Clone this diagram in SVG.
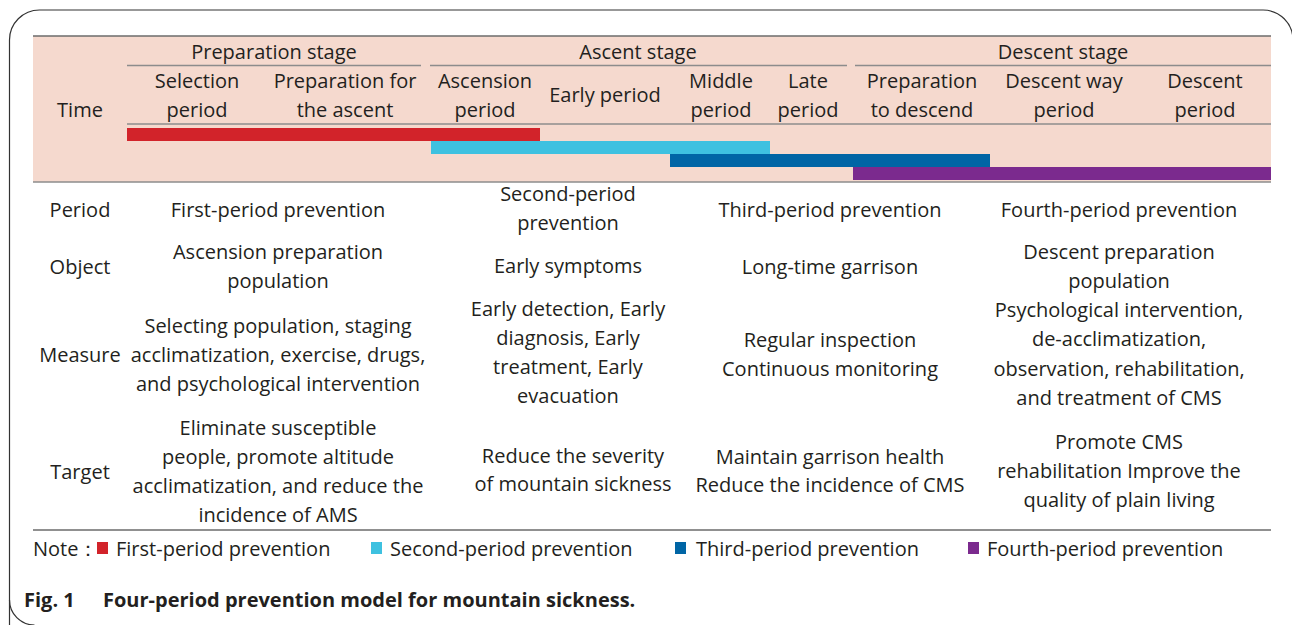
<svg xmlns="http://www.w3.org/2000/svg" width="1292" height="625" viewBox="0 0 1292 625">
<style>
text{font-family:"Open Sans","Noto Sans","Liberation Sans",sans-serif;font-size:20px;fill:#231f20;text-anchor:middle}
.l{text-anchor:start}
.cap{font-weight:bold;font-size:20px;text-anchor:start}
.rule{stroke:#8c8c8c;stroke-width:1.5;fill:none}
.dark{stroke:#6b6b6b;stroke-width:1.5;fill:none}
</style>
<rect width="1292" height="625" fill="#fff"/>
<path d="M9.5,630 V40 A30,30 0 0 1 39.5,10 H1263 A30,30 0 0 1 1293,40 V640" fill="none" stroke="#333" stroke-width="1.2"/>
<path d="M9.5,600 A25,25 0 0 0 34.5,625" fill="none" stroke="#333" stroke-width="1.2"/>
<g id="header">
<rect x="33" y="36" width="1238" height="146" fill="#f5d9ce"/>
<line class="dark" x1="33" y1="36" x2="1271" y2="36"/>
<line class="rule" x1="33" y1="182" x2="1271" y2="182"/>
<line class="rule" x1="127" y1="65.5" x2="421" y2="65.5"/>
<line class="rule" x1="430" y1="65.5" x2="847" y2="65.5"/>
<line class="rule" x1="855" y1="65.5" x2="1271" y2="65.5"/>
<line class="rule" x1="127" y1="124" x2="1271" y2="124"/>
<text x="274" y="59">Preparation stage</text>
<text x="638" y="59">Ascent stage</text>
<text x="1063" y="59">Descent stage</text>
<text x="80" y="117">Time</text>
<text x="197" y="88">Selection</text><text x="197" y="117">period</text>
<text x="345" y="88">Preparation for</text><text x="345" y="117">the ascent</text>
<text x="485" y="88">Ascension</text><text x="485" y="117">period</text>
<text x="605" y="102">Early period</text>
<text x="721" y="88">Middle</text><text x="721" y="117">period</text>
<text x="808" y="88">Late</text><text x="808" y="117">period</text>
<text x="922" y="88">Preparation</text><text x="922" y="117">to descend</text>
<text x="1064" y="88">Descent way</text><text x="1064" y="117">period</text>
<text x="1205" y="88">Descent</text><text x="1205" y="117">period</text>
</g>
<g id="bars">
<rect x="127" y="128" width="413" height="13" fill="#d2232a"/>
<rect x="431" y="141" width="339" height="13" fill="#3ec1e0"/>
<rect x="670" y="154" width="320" height="13" fill="#0065a5"/>
<rect x="853" y="167" width="418" height="13" fill="#7b2a8e"/>
</g>
<g id="row-labels">
<text x="80" y="217">Period</text>
<text x="80" y="274">Object</text>
<text x="80" y="362">Measure</text>
<text x="80" y="479">Target</text>
</g>
<g id="col1">
<text x="278" y="217">First-period prevention</text>
<text x="278" y="259">Ascension preparation</text><text x="278" y="288">population</text>
<text x="278" y="333">Selecting population, staging</text><text x="278" y="362">acclimatization, exercise, drugs,</text><text x="278" y="391">and psychological intervention</text>
<text x="278" y="435">Eliminate susceptible</text><text x="278" y="464">people, promote altitude</text><text x="278" y="493">acclimatization, and reduce the</text><text x="278" y="522">incidence of AMS</text>
</g>
<g id="col2">
<text x="568" y="201">Second-period</text><text x="568" y="230">prevention</text>
<text x="568" y="273">Early symptoms</text>
<text x="568" y="316">Early detection, Early</text><text x="568" y="345">diagnosis, Early</text><text x="568" y="374">treatment, Early</text><text x="568" y="403">evacuation</text>
<text x="573" y="463">Reduce the severity</text><text x="573" y="491">of mountain sickness</text>
</g>
<g id="col3">
<text x="830" y="217">Third-period prevention</text>
<text x="830" y="274">Long-time garrison</text>
<text x="830" y="347">Regular inspection</text><text x="830" y="376">Continuous monitoring</text>
<text x="830" y="464">Maintain garrison health</text><text x="830" y="492">Reduce the incidence of CMS</text>
</g>
<g id="col4">
<text x="1119" y="217">Fourth-period prevention</text>
<text x="1119" y="259">Descent preparation</text><text x="1119" y="288">population</text>
<text x="1119" y="317">Psychological intervention,</text><text x="1119" y="346">de-acclimatization,</text><text x="1119" y="376">observation, rehabilitation,</text><text x="1119" y="405">and treatment of CMS</text>
<text x="1119" y="449">Promote CMS</text><text x="1119" y="478">rehabilitation Improve the</text><text x="1119" y="507">quality of plain living</text>
</g>
<line class="dark" x1="33" y1="530" x2="1271" y2="530"/>
<g id="legend">
<text class="l" x="33" y="556">Note：</text>
<rect x="97" y="542" width="11" height="12" fill="#d2232a"/>
<text class="l" x="116" y="556">First-period prevention</text>
<rect x="371" y="542" width="11" height="12" fill="#3ec1e0"/>
<text class="l" x="390" y="556">Second-period prevention</text>
<rect x="675" y="542" width="11" height="12" fill="#0065a5"/>
<text class="l" x="696" y="556">Third-period prevention</text>
<rect x="968" y="542" width="11" height="12" fill="#7b2a8e"/>
<text class="l" x="987" y="556">Fourth-period prevention</text>
</g>
<text class="cap" x="24" y="607">Fig. 1</text>
<text class="cap" x="103" y="607">Four-period prevention model for mountain sickness.</text>
</svg>
